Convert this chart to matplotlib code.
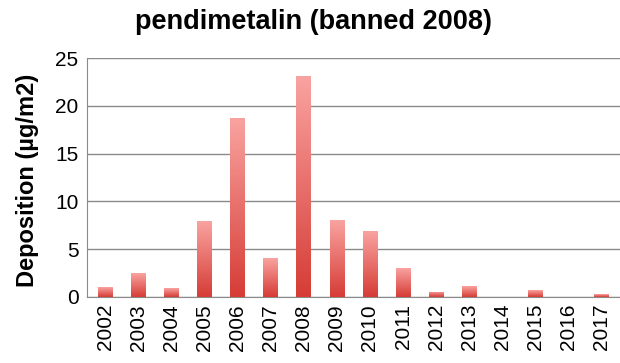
import numpy as np
import matplotlib.pyplot as plt
from matplotlib.colors import LinearSegmentedColormap

years = ['2002', '2003', '2004', '2005', '2006', '2007', '2008', '2009',
         '2010', '2011', '2012', '2013', '2014', '2015', '2016', '2017']
deposition = [1.0, 2.5, 0.9, 7.9, 18.7, 4.05, 23.1, 8.05,
              6.9, 3.0, 0.55, 1.15, 0.0, 0.7, 0.0, 0.3]

plt.rcParams['font.family'] = ['Liberation Sans', 'DejaVu Sans']

fig = plt.figure(figsize=(6.2, 3.63), dpi=100)
ax = fig.add_axes([0.140, 0.182, 0.860, 0.658])

x = np.arange(len(years))
bars = ax.bar(x, deposition, width=0.44, color='none', edgecolor='none', zorder=3)

# vertical gradient: dark red at the base, pale pink at the top
cmap = LinearSegmentedColormap.from_list('redfade', ['#d63c36', '#f9a3a0'])
grad = np.linspace(0, 1, 256).reshape(-1, 1)
for b in bars:
    h = b.get_height()
    if h <= 0:
        continue
    x0 = b.get_x()
    im = ax.imshow(grad, cmap=cmap, origin='lower', aspect='auto',
                   extent=[x0, x0 + b.get_width(), 0, h], zorder=3)
    im.set_clip_path(b)

ax.set_xlim(-0.55, len(years) - 0.45)
ax.set_ylim(0, 25)
ax.set_yticks([0, 5, 10, 15, 20, 25])
ax.set_xticks(x)
ax.set_xticklabels(years, rotation=90)
ax.tick_params(axis='both', length=0, labelsize=15, colors='black')
ax.tick_params(axis='x', pad=5)
ax.tick_params(axis='y', pad=6)

ax.grid(axis='y', color='#8a8a8a', linewidth=1.0, zorder=0)
for s in ['top', 'right']:
    ax.spines[s].set_visible(False)
ax.spines['left'].set_color('#8a8a8a')
ax.spines['bottom'].set_color('#8a8a8a')

ax.set_ylabel('Deposition (µg/m2)', fontsize=17, fontweight='bold')
ax.yaxis.set_label_coords(-0.09, 0.49)
fig.text(0.506, 0.94, 'pendimetalin (banned 2008)', fontsize=19.5,
         fontweight='bold', ha='center', va='center')

fig.savefig('out.png', dpi=100)
